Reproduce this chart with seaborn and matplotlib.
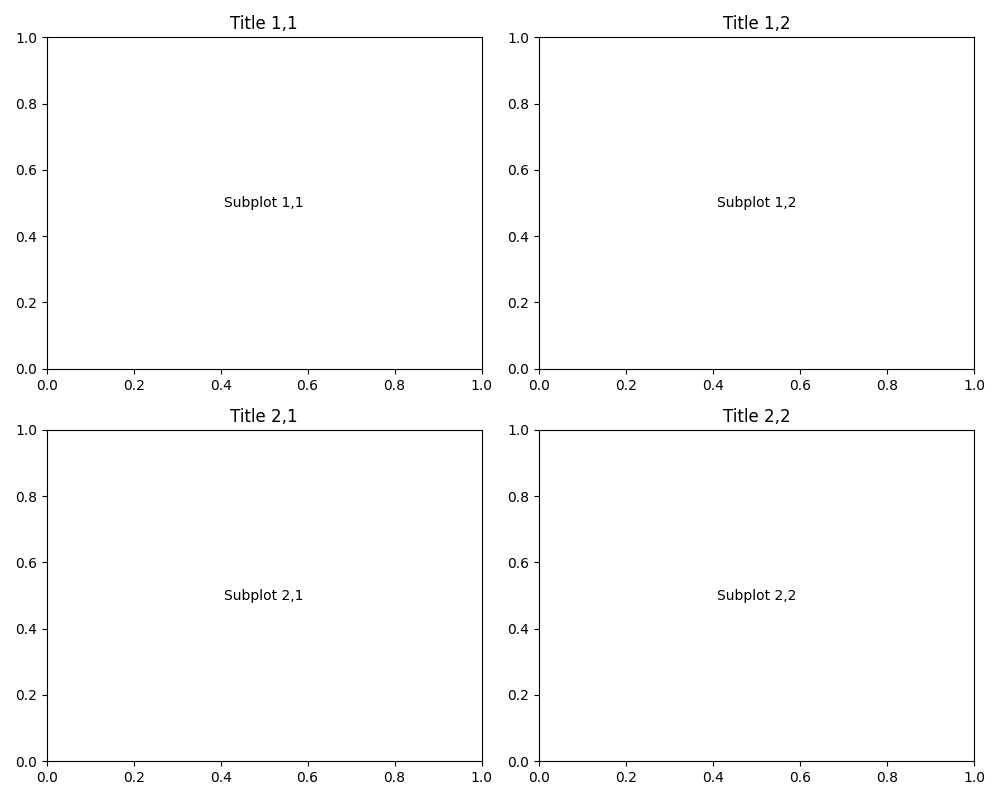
import matplotlib
matplotlib.use("Agg")
import matplotlib.pyplot as plt
import seaborn as sns

# ====================== DATA ======================
titles = ["Title 1,1", "Title 1,2", "Title 2,1", "Title 2,2"]
labels = ["Subplot 1,1", "Subplot 1,2", "Subplot 2,1", "Subplot 2,2"]

# ====================== PLOT ======================
fig, axes = plt.subplots(2, 2, figsize=(10, 8), dpi=100)

for ax, title, label in zip(axes.flat, titles, labels):
    ax.set_title(title)
    ax.text(0.5, 0.5, label, ha="center", va="center", transform=ax.transAxes)
    ax.set_xlim(0, 1)
    ax.set_ylim(0, 1)

sns.despine(fig=fig, top=False, right=False)
plt.tight_layout()
plt.savefig("out.png")
